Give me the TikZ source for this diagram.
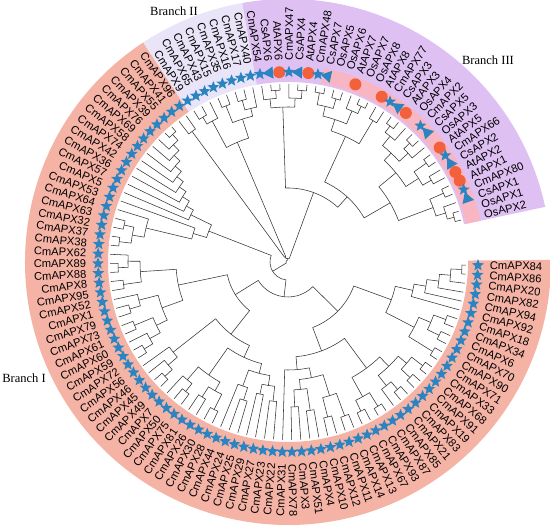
\documentclass[tikz,border=0pt]{standalone}
\usepackage{fontspec}
\setmainfont{Liberation Serif}
\newfontfamily\labfont{Liberation Sans}
\usetikzlibrary{shapes.geometric}
\definecolor{brI}{HTML}{F5B3A6}
\definecolor{brII}{HTML}{E9E4F7}
\definecolor{brIII}{HTML}{DFC0F3}
\definecolor{inpink}{HTML}{F8B6C2}
\definecolor{mblue}{HTML}{2B84C2}
\definecolor{mred}{HTML}{F2603C}
\tikzset{
  tree/.style={draw=black!80,line width=0.55pt},
  lab/.style={font=\labfont\fontsize{11.2}{12}\selectfont,inner sep=0.8pt},
  starm/.style={star,star points=5,star point ratio=2.3,minimum size=12.5pt,inner sep=0pt,fill=mblue},
  trim/.style={regular polygon,regular polygon sides=3,minimum size=14pt,inner sep=0pt,fill=mblue},
  circm/.style={circle,minimum size=12pt,inner sep=0pt,fill=mred},
  brlab/.style={font=\fontsize{12.5}{13}\selectfont,inner sep=0pt}
}
\newcommand\sector[5]{\fill[#1] (#2:#4pt) arc[start angle=#2,end angle=#3,radius=#4pt] -- (#3:#5pt) arc[start angle=#3,end angle=#2,radius=#5pt] -- cycle;}
\newcommand\nd[4]{%
  \edef\tA{\csname a@#3\endcsname}\edef\tB{\csname a@#4\endcsname}%
  \edef\rA{\csname r@#3\endcsname}\edef\rB{\csname r@#4\endcsname}%
  \pgfmathsetmacro\tM{(\tA+\tB)/2}%
  \expandafter\xdef\csname a@#1\endcsname{\tM}%
  \expandafter\xdef\csname r@#1\endcsname{#2}%
  \coordinate (#1) at (\tM:#2pt);%
  \draw[tree] (\tA:\rA pt) -- (\tA:#2pt) arc[start angle=\tA,end angle=\tB,radius=#2pt] -- (\tB:\rB pt);%
}
\begin{document}
\begin{tikzpicture}[x=1pt,y=1pt]
\useasboundingbox (0,0) rectangle (550,529);
\begin{scope}[shift={(288,267)}]
% highlight sectors
\sector{brI}{0.46}{-236.6}{180}{263}
\sector{brII}{-236.6}{-260.0}{180}{263}
\sector{brIII}{-260.0}{-347.9}{180}{263}
\sector{inpink}{-280.5}{-347.9}{182}{197}
% leaves
\foreach \i in {0,...,118}{%
  \pgfmathsetmacro\a{-(1+\i*2.927)}%
  \expandafter\xdef\csname a@L\i\endcsname{\a}%
  \expandafter\xdef\csname r@L\i\endcsname{178}%
  \coordinate (L\i) at (\a:178pt);
}
% ---------- Branch I ----------
% group A (right side ladder)
\nd{a1}{174}{L0}{L1}
\nd{a2}{163}{a1}{L2}
\nd{a3}{152}{a2}{L3}
\nd{a4}{140}{a3}{L4}
\nd{a5}{128}{a4}{L5}
\nd{a6}{168}{L6}{L7}
\nd{a7}{168}{L8}{L9}
\nd{a8}{155}{a6}{a7}
\nd{a9}{170}{L10}{L11}
\nd{a10}{142}{a8}{a9}
\nd{A}{110}{a5}{a10}
% group B
\nd{b1}{170}{L12}{L13}
\nd{b2}{168}{L14}{L15}
\nd{b3}{156}{b1}{b2}
\nd{b4}{168}{L16}{L17}
\nd{b5}{158}{b4}{L18}
\nd{b6}{145}{b3}{b5}
\nd{b7}{170}{L19}{L20}
\nd{b8}{166}{L21}{L22}
\nd{b9}{154}{b7}{b8}
\nd{b10}{132}{b6}{b9}
\nd{b11}{164}{L23}{L24}
\nd{b12}{160}{L25}{L26}
\nd{b13}{140}{b11}{b12}
\nd{b14}{150}{L27}{L28}
\nd{b15}{145}{L29}{L30}
\nd{b16}{128}{b14}{b15}
\nd{b17}{118}{b13}{b16}
\nd{b18}{108}{b17}{L31}
\nd{B}{95}{b10}{b18}
% group C
\nd{c1}{140}{L32}{L33}
\nd{c2}{135}{L34}{L35}
\nd{c3}{125}{c1}{c2}
\nd{c4}{145}{L36}{L37}
\nd{c5}{132}{c4}{L38}
\nd{c6}{115}{c3}{c5}
\nd{c7}{165}{L39}{L40}
\nd{c8}{160}{L41}{L42}
\nd{c9}{148}{c7}{c8}
\nd{c10}{165}{L43}{L44}
\nd{c11}{155}{c10}{L45}
\nd{c12}{138}{c9}{c11}
\nd{c13}{105}{c6}{c12}
\nd{c14}{168}{L46}{L47}
\nd{c15}{158}{c14}{L48}
\nd{c16}{146}{c15}{L49}
\nd{C}{92}{c13}{c16}
% group D
\nd{d1}{168}{L50}{L51}
\nd{d2}{158}{d1}{L52}
\nd{d3}{166}{L53}{L54}
\nd{d4}{146}{d2}{d3}
\nd{d5}{165}{L55}{L56}
\nd{d6}{154}{d5}{L57}
\nd{d7}{134}{d4}{d6}
\nd{d8}{166}{L58}{L59}
\nd{d9}{170}{L60}{L61}
\nd{d10}{160}{d9}{L62}
\nd{d11}{148}{d8}{d10}
\nd{D}{112}{d7}{d11}
% group E
\nd{e1}{170}{L63}{L64}
\nd{e2}{168}{L65}{L66}
\nd{e3}{158}{e1}{e2}
\nd{e4}{146}{e3}{L67}
\nd{e5}{99}{e4}{L68}
\nd{e6}{172}{L77}{L78}
\nd{e7}{164}{L76}{e6}
\nd{e8}{156}{L75}{e7}
\nd{e9}{148}{L74}{e8}
\nd{e10}{140}{L73}{e9}
\nd{e11}{132}{L72}{e10}
\nd{e12}{124}{L71}{e11}
\nd{e13}{116}{L70}{e12}
\nd{e14}{108}{L69}{e13}
\nd{E}{85}{e5}{e14}
\nd{AB}{70}{A}{B}
\nd{CD}{62}{C}{D}
\nd{ABCD}{35}{AB}{CD}
\nd{I}{18}{ABCD}{E}
\nd{P}{162}{L79}{L80}
% ---------- Branch II ----------
\nd{f1}{168}{L81}{L82}
\nd{f2}{160}{f1}{L83}
\nd{f3}{168}{L84}{L85}
\nd{f4}{168}{L86}{L87}
\nd{f5}{158}{f4}{L88}
\nd{f6}{150}{f3}{f5}
\nd{II}{130}{f2}{f6}
% ---------- Branch III ----------
\nd{g1}{172}{L90}{L91}
\nd{g2}{164}{L89}{g1}
\nd{g3}{172}{L93}{L94}
\nd{g4}{164}{L92}{g3}
\nd{g5}{155}{g2}{g4}
\nd{g6}{172}{L95}{L96}
\nd{g7}{170}{L97}{L98}
\nd{g8}{160}{g6}{g7}
\nd{g9}{172}{L100}{L101}
\nd{g10}{164}{L99}{g9}
\nd{g11}{150}{g8}{g10}
\nd{g12}{165}{L102}{L103}
\nd{g13}{138}{g11}{g12}
\nd{g14}{170}{L104}{L105}
\nd{g15}{162}{g14}{L106}
\nd{g16}{170}{L107}{L108}
\nd{g17}{162}{g16}{L109}
\nd{g18}{150}{g15}{g17}
\nd{g19}{170}{L110}{L111}
\nd{g20}{165}{L112}{L113}
\nd{g21}{155}{g19}{g20}
\nd{g22}{140}{g18}{g21}
\nd{g23}{170}{L114}{L115}
\nd{g24}{172}{L117}{L118}
\nd{g25}{165}{L116}{g24}
\nd{g26}{155}{g23}{g25}
\nd{g27}{118}{g22}{g26}
\nd{g28}{88}{g13}{g27}
\nd{III}{74}{g5}{g28}
\nd{X1}{6}{P}{II}
\nd{X2}{4}{X1}{III}
\nd{root}{2}{I}{X2}
% labels and markers
\foreach \nm/\ty [count=\i from 0] in {CmAPX84/s,CmAPX86/s,CmAPX20/s,CmAPX82/s,CmAPX94/s,CmAPX92/s,CmAPX18/s,CmAPX34/s,CmAPX6/s,CmAPX70/s,CmAPX90/s,CmAPX71/s,CmAPX33/s,CmAPX68/s,CmAPX91/s,CmAPX19/s,CmAPX83/s,CmAPX21/s,CmAPX85/s,CmAPX87/s,CmAPX93/s,CmAPX67/s,CmAPX13/s,CmAPX14/s,CmAPX11/s,CmAPX12/s,CmAPX10/s,CmAPX4/s,CmAPX51/s,CmAPX3/s,CmAPX78/s,CmAPX31/s,CmAPX22/s,CmAPX23/s,CmAPX27/s,CmAPX29/s,CmAPX25/s,CmAPX24/s,CmAPX44/s,CmAPX28/s,CmAPX30/s,CmAPX26/s,CmAPX81/s,CmAPX75/s,CmAPX50/s,CmAPX7/s,CmAPX49/s,CmAPX45/s,CmAPX46/s,CmAPX56/s,CmAPX72/s,CmAPX59/s,CmAPX60/s,CmAPX61/s,CmAPX73/s,CmAPX79/s,CmAPX1/s,CmAPX52/s,CmAPX95/s,CmAPX8/s,CmAPX88/s,CmAPX89/s,CmAPX62/s,CmAPX38/s,CmAPX37/s,CmAPX32/s,CmAPX63/s,CmAPX64/s,CmAPX53/s,CmAPX5/s,CmAPX57/s,CmAPX36/s,CmAPX42/s,CmAPX74/s,CmAPX58/s,CmAPX69/s,CmAPX76/s,CmAPX39/s,CmAPX55/s,CmAPX41/s,CmAPX96/s,CmAPX9/s,CmAPX65/s,CmAPX43/s,CmAPX15/s,CmAPX35/s,CmAPX16/s,CmAPX17/s,CmAPX40/s,CmAPX54/s,CsAPX6/t,AtAPX6/c,CmAPX47/s,CsAPX4/t,AtAPX4/c,CmAPX48/s,CsAPX7/t,OsAPX5/o,OsAPX6/o,AtAPX7/c,OsAPX7/o,OsAPX8/o,AtAPX8/c,CmAPX77/s,CsAPX3/t,AtAPX3/c,OsAPX4/o,CmAPX2/s,CsAPX5/t,OsAPX3/o,AtAPX5/c,CmAPX66/s,CsAPX2/t,AtAPX2/c,AtAPX1/c,CmAPX80/s,CsAPX1/t,OsAPX1/o,OsAPX2/o}{%
  \pgfmathsetmacro\a{-(1+\i*2.927)}%
  \pgfmathsetmacro\ra{\a+180}%
  \ifdim\a pt<-90pt \def\lft{1}\else\def\lft{0}\fi
  \ifdim\a pt<-270pt \def\lft{0}\fi
  \if1\lft
    \node[lab,anchor=east,rotate=\ra] (t\i) at (\a:201pt) {\nm};
  \else
    \node[lab,anchor=west,rotate=\a] (t\i) at (\a:201pt) {\nm};
  \fi
  \if s\ty \node[starm] (m\i) at (\a:190pt) {};\fi
  \if t\ty \node[trim,rotate=\a] (m\i) at (\a:190pt) {};\fi
  \if c\ty \node[circm] (m\i) at (\a:190pt) {};\fi
}
\end{scope}
\node[brlab] (bI) at (24,151) {Branch I};
\node[brlab] (bII) at (174,518) {Branch II};
\node[brlab] (bIII) at (488,469) {Branch III};
\end{tikzpicture}
\end{document}
